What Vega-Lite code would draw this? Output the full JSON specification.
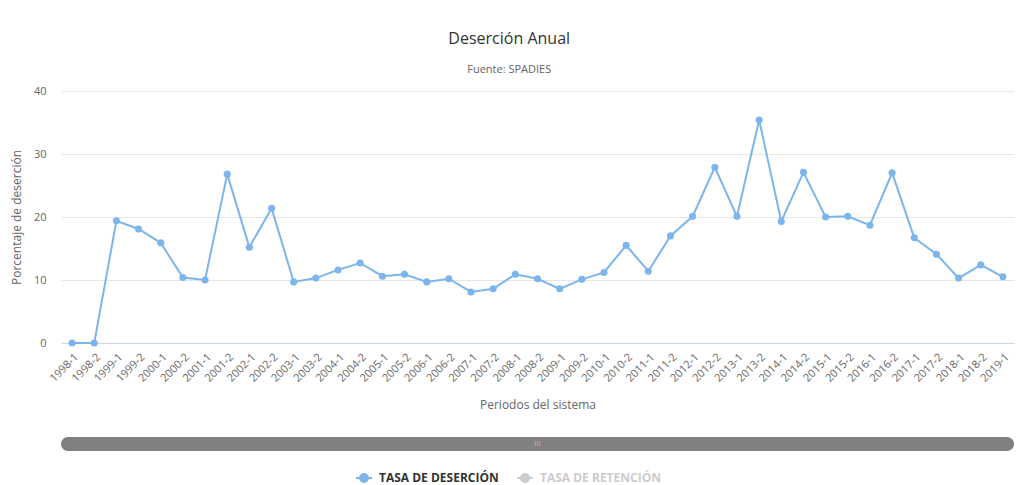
{
  "$schema": "https://vega.github.io/schema/vega-lite/v6.json",
  "padding": {"left": 10, "top": 31, "right": 7, "bottom": 5},
  "background": "white",
  "bounds": "flush",
  "spacing": 94,
  "title": {
    "text": "Deserción Anual",
    "subtitle": "Fuente: SPADIES",
    "font": "Open Sans",
    "fontSize": 16,
    "fontWeight": "normal",
    "color": "#333333",
    "subtitleFont": "Open Sans",
    "subtitleFontSize": 11,
    "subtitleColor": "#666666",
    "anchor": "middle",
    "dx": -3,
    "offset": 10,
    "subtitlePadding": 17
  },
  "config": {
    "view": {"stroke": null},
    "font": "Open Sans"
  },
  "vconcat": [
    {
      "width": 953,
      "height": 252,
      "data": {
        "values": [
          {"periodo": "1998-1", "tasa": 0.0, "serie": "TASA DE DESERCIÓN"},
          {"periodo": "1998-2", "tasa": 0.0, "serie": "TASA DE DESERCIÓN"},
          {"periodo": "1999-1", "tasa": 19.4, "serie": "TASA DE DESERCIÓN"},
          {"periodo": "1999-2", "tasa": 18.1, "serie": "TASA DE DESERCIÓN"},
          {"periodo": "2000-1", "tasa": 15.9, "serie": "TASA DE DESERCIÓN"},
          {"periodo": "2000-2", "tasa": 10.4, "serie": "TASA DE DESERCIÓN"},
          {"periodo": "2001-1", "tasa": 10.0, "serie": "TASA DE DESERCIÓN"},
          {"periodo": "2001-2", "tasa": 26.8, "serie": "TASA DE DESERCIÓN"},
          {"periodo": "2002-1", "tasa": 15.2, "serie": "TASA DE DESERCIÓN"},
          {"periodo": "2002-2", "tasa": 21.4, "serie": "TASA DE DESERCIÓN"},
          {"periodo": "2003-1", "tasa": 9.7, "serie": "TASA DE DESERCIÓN"},
          {"periodo": "2003-2", "tasa": 10.3, "serie": "TASA DE DESERCIÓN"},
          {"periodo": "2004-1", "tasa": 11.6, "serie": "TASA DE DESERCIÓN"},
          {"periodo": "2004-2", "tasa": 12.7, "serie": "TASA DE DESERCIÓN"},
          {"periodo": "2005-1", "tasa": 10.6, "serie": "TASA DE DESERCIÓN"},
          {"periodo": "2005-2", "tasa": 10.9, "serie": "TASA DE DESERCIÓN"},
          {"periodo": "2006-1", "tasa": 9.7, "serie": "TASA DE DESERCIÓN"},
          {"periodo": "2006-2", "tasa": 10.2, "serie": "TASA DE DESERCIÓN"},
          {"periodo": "2007-1", "tasa": 8.1, "serie": "TASA DE DESERCIÓN"},
          {"periodo": "2007-2", "tasa": 8.6, "serie": "TASA DE DESERCIÓN"},
          {"periodo": "2008-1", "tasa": 10.9, "serie": "TASA DE DESERCIÓN"},
          {"periodo": "2008-2", "tasa": 10.2, "serie": "TASA DE DESERCIÓN"},
          {"periodo": "2009-1", "tasa": 8.6, "serie": "TASA DE DESERCIÓN"},
          {"periodo": "2009-2", "tasa": 10.1, "serie": "TASA DE DESERCIÓN"},
          {"periodo": "2010-1", "tasa": 11.2, "serie": "TASA DE DESERCIÓN"},
          {"periodo": "2010-2", "tasa": 15.5, "serie": "TASA DE DESERCIÓN"},
          {"periodo": "2011-1", "tasa": 11.4, "serie": "TASA DE DESERCIÓN"},
          {"periodo": "2011-2", "tasa": 17.0, "serie": "TASA DE DESERCIÓN"},
          {"periodo": "2012-1", "tasa": 20.1, "serie": "TASA DE DESERCIÓN"},
          {"periodo": "2012-2", "tasa": 27.9, "serie": "TASA DE DESERCIÓN"},
          {"periodo": "2013-1", "tasa": 20.1, "serie": "TASA DE DESERCIÓN"},
          {"periodo": "2013-2", "tasa": 35.4, "serie": "TASA DE DESERCIÓN"},
          {"periodo": "2014-1", "tasa": 19.3, "serie": "TASA DE DESERCIÓN"},
          {"periodo": "2014-2", "tasa": 27.1, "serie": "TASA DE DESERCIÓN"},
          {"periodo": "2015-1", "tasa": 20.0, "serie": "TASA DE DESERCIÓN"},
          {"periodo": "2015-2", "tasa": 20.1, "serie": "TASA DE DESERCIÓN"},
          {"periodo": "2016-1", "tasa": 18.7, "serie": "TASA DE DESERCIÓN"},
          {"periodo": "2016-2", "tasa": 27.0, "serie": "TASA DE DESERCIÓN"},
          {"periodo": "2017-1", "tasa": 16.7, "serie": "TASA DE DESERCIÓN"},
          {"periodo": "2017-2", "tasa": 14.1, "serie": "TASA DE DESERCIÓN"},
          {"periodo": "2018-1", "tasa": 10.3, "serie": "TASA DE DESERCIÓN"},
          {"periodo": "2018-2", "tasa": 12.4, "serie": "TASA DE DESERCIÓN"},
          {"periodo": "2019-1", "tasa": 10.5, "serie": "TASA DE DESERCIÓN"}
        ]
      },
      "encoding": {
        "x": {
          "field": "periodo",
          "type": "ordinal",
          "sort": null,
          "scale": {"type": "point", "padding": 0.5},
          "axis": {
            "title": "Periodos del sistema",
            "titleFont": "Open Sans",
            "titleFontSize": 12,
            "titleFontWeight": "normal",
            "titleColor": "#666666",
            "titlePadding": 16,
            "labelAngle": -45,
            "labelFont": "Open Sans",
            "labelFontSize": 11,
            "labelColor": "#666666",
            "labelPadding": 8,
            "ticks": false,
            "grid": false,
            "domainColor": "#ccd6eb",
            "domainWidth": 1
          }
        },
        "y": {
          "field": "tasa",
          "type": "quantitative",
          "scale": {"domain": [0, 40]},
          "axis": {
            "title": "Porcentaje de deserción",
            "titleFont": "Open Sans",
            "titleFontSize": 12,
            "titleFontWeight": "normal",
            "titleColor": "#666666",
            "titlePadding": 10,
            "values": [0, 10, 20, 30, 40],
            "labelFont": "Open Sans",
            "labelFontSize": 11,
            "labelColor": "#666666",
            "labelPadding": 15,
            "ticks": false,
            "domain": false,
            "grid": true,
            "gridColor": "#e6e6e6"
          }
        }
      },
      "layer": [
        {
          "mark": {"type": "line", "color": "#7cb5ec", "strokeWidth": 2}
        },
        {
          "mark": {"type": "point", "filled": true, "opacity": 1, "size": 50, "shape": "circle"},
          "encoding": {
            "color": {
              "field": "serie",
              "type": "nominal",
              "scale": {"domain": ["TASA DE DESERCIÓN", "TASA DE RETENCIÓN"], "range": ["#7cb5ec", "#cccccc"]},
              "legend": {
                "title": null,
                "orient": "none",
                "direction": "horizontal",
                "legendX": 294,
                "legendY": 378,
                "symbolType": "M-1,0L1,0M-0.5,0A0.5,0.5,0,1,1,0.5,0A0.5,0.5,0,1,1,-0.5,0Z",
                "symbolSize": 256,
                "symbolStrokeWidth": 2,
                "symbolStrokeColor": {"expr": "datum.value === 'TASA DE RETENCIÓN' ? '#cccccc' : '#7cb5ec'"},
                "symbolFillColor": {"expr": "datum.value === 'TASA DE RETENCIÓN' ? '#cccccc' : '#7cb5ec'"},
                "labelColor": {"expr": "datum.value === 'TASA DE RETENCIÓN' ? '#cccccc' : '#333333'"},
                "labelFont": "Open Sans",
                "labelFontSize": 12,
                "labelFontWeight": "bold",
                "labelOffset": 6,
                "labelLimit": 300,
                "columnPadding": 14
              }
            }
          }
        }
      ]
    },
    {
      "width": 953,
      "height": 14,
      "data": {"values": [{"inicio": 0, "fin": 1, "marca": "III"}]},
      "layer": [
        {
          "mark": {"type": "rect", "color": "#808080", "cornerRadius": 7},
          "encoding": {
            "x": {"field": "inicio", "type": "quantitative", "scale": {"domain": [0, 1]}, "axis": null},
            "x2": {"field": "fin"}
          }
        },
        {
          "mark": {"type": "text", "color": "#bbbbbb", "fontSize": 8, "font": "Open Sans"},
          "encoding": {
            "x": {"datum": 0.5, "type": "quantitative", "scale": {"domain": [0, 1]}, "axis": null},
            "text": {"field": "marca"}
          }
        }
      ]
    }
  ]
}
